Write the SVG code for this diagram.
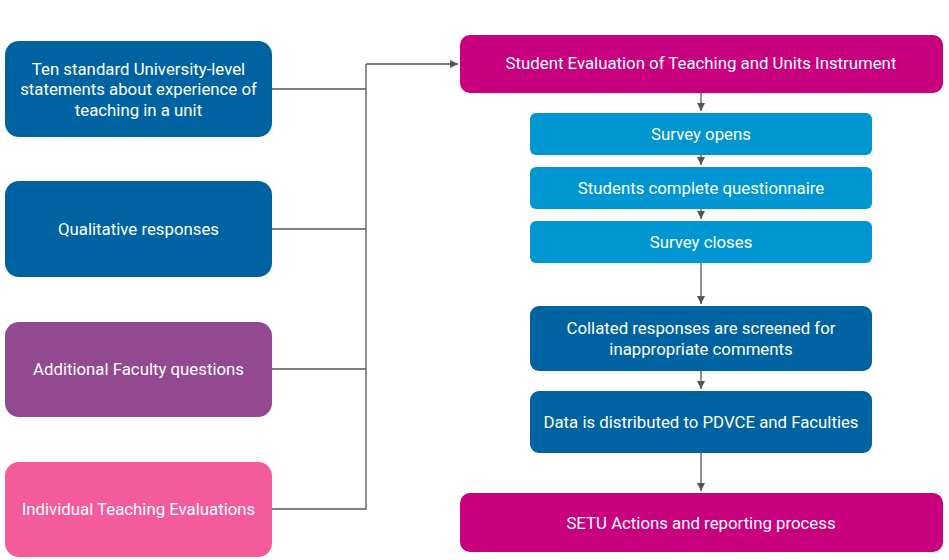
<svg xmlns="http://www.w3.org/2000/svg" width="949" height="560" viewBox="0 0 949 560">
<style>
text{font-family:Roboto,"Liberation Sans",sans-serif;font-size:16.8px;fill:#fff;text-anchor:middle;dominant-baseline:central}
.c{fill:none;stroke:#555;stroke-width:1.3}
</style>
<defs>
<marker id="a" markerWidth="10" markerHeight="10" refX="8" refY="4" orient="auto" markerUnits="userSpaceOnUse">
<path d="M0,0 L8,4 L0,8 z" fill="#555"/>
</marker>
</defs>
<rect width="949" height="560" fill="#fff"/>
<g id="connectors">
<path class="c" d="M272,89 H366 M272,229 H366 M272,369 H366 M272,509 H366 V64"/>
<path class="c" d="M366,64 H458" marker-end="url(#a)"/>
<path class="c" d="M701,93 V111" marker-end="url(#a)"/>
<path class="c" d="M701,155 V165" marker-end="url(#a)"/>
<path class="c" d="M701,209 V219" marker-end="url(#a)"/>
<path class="c" d="M701,263 V304" marker-end="url(#a)"/>
<path class="c" d="M701,371 V389" marker-end="url(#a)"/>
<path class="c" d="M701,453 V491" marker-end="url(#a)"/>
</g>
<g id="n1"><rect x="5" y="41" width="267" height="96" rx="14" fill="#0063a1"/>
<text x="138.5" y="69">Ten standard University-level</text><text x="138.5" y="89">statements about experience of</text><text x="138.5" y="110">teaching in a unit</text></g>
<g id="n2"><rect x="5" y="181" width="267" height="96" rx="14" fill="#0063a1"/><text x="138.5" y="229">Qualitative responses</text></g>
<g id="n3"><rect x="5" y="322" width="267" height="95" rx="14" fill="#934990"/><text x="138.5" y="369">Additional Faculty questions</text></g>
<g id="n4"><rect x="5" y="462" width="267" height="95" rx="14" fill="#f45b9a"/><text x="138.5" y="509">Individual Teaching Evaluations</text></g>
<g id="n5"><rect x="460" y="35" width="483" height="58" rx="10" fill="#c8007e"/><text x="701" y="63">Student Evaluation of Teaching and Units Instrument</text></g>
<g id="n6"><rect x="530" y="113" width="342" height="42" rx="6" fill="#0096d1"/><text x="701" y="134">Survey opens</text></g>
<g id="n7"><rect x="530" y="167" width="342" height="42" rx="6" fill="#0096d1"/><text x="701" y="188">Students complete questionnaire</text></g>
<g id="n8"><rect x="530" y="221" width="342" height="42" rx="6" fill="#0096d1"/><text x="701" y="242">Survey closes</text></g>
<g id="n9"><rect x="530" y="306" width="342" height="65" rx="9" fill="#0063a1"/><text x="701" y="328">Collated responses are screened for</text><text x="701" y="349">inappropriate comments</text></g>
<g id="n10"><rect x="530" y="391" width="342" height="62" rx="9" fill="#0063a1"/><text x="701" y="422">Data is distributed to PDVCE and Faculties</text></g>
<g id="n11"><rect x="460" y="493" width="483" height="59" rx="10" fill="#c8007e"/><text x="701" y="523">SETU Actions and reporting process</text></g>
</svg>
